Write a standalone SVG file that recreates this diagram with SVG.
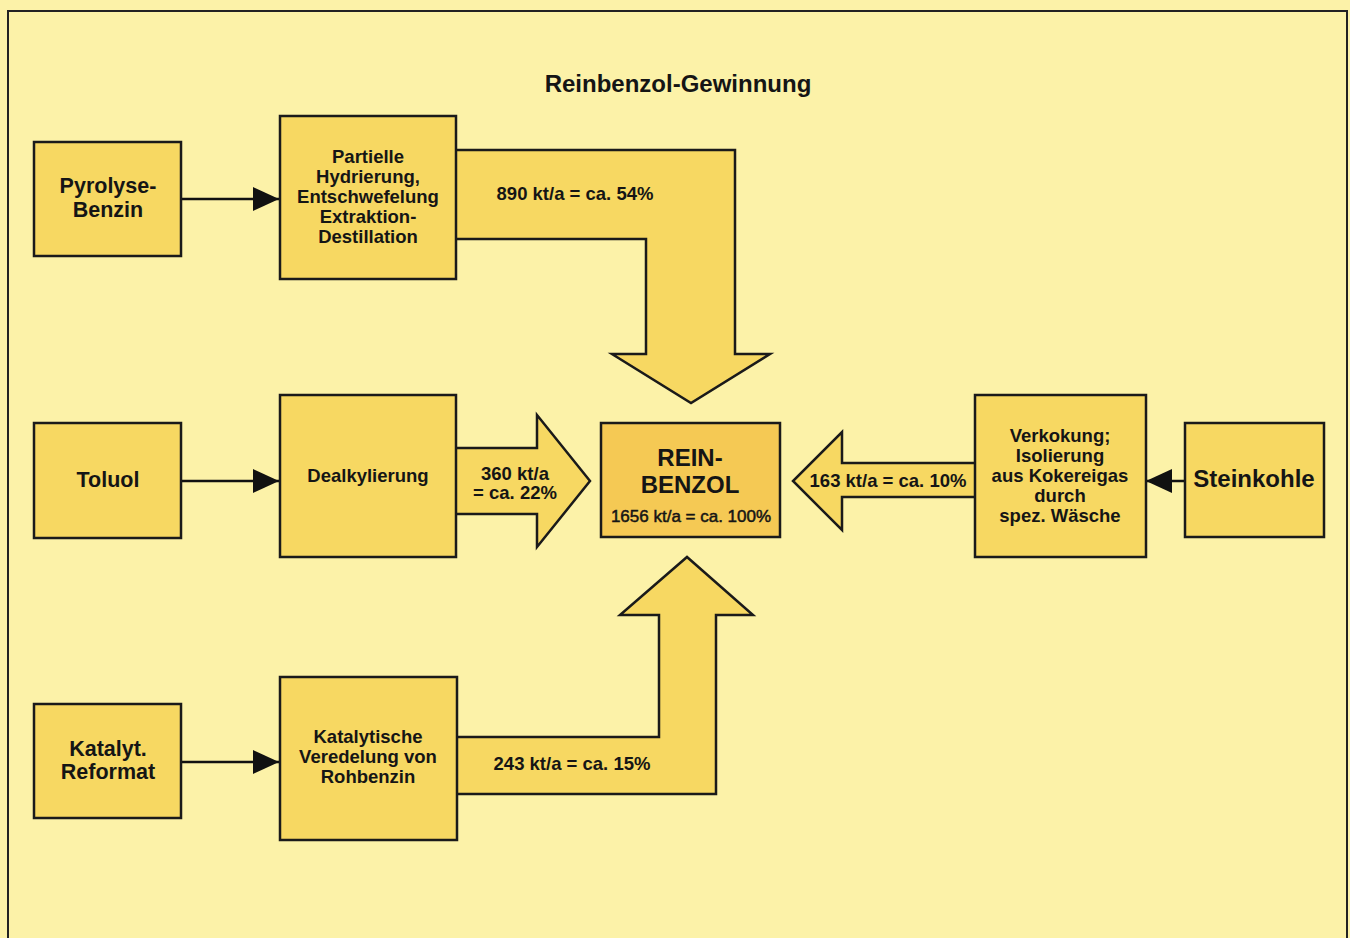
<svg xmlns="http://www.w3.org/2000/svg" width="1350" height="938" viewBox="0 0 1350 938">
  <defs>
    <style>
      .bg { fill: #FCF2A8; }
      .frame { fill: none; stroke: #222; stroke-width: 2; }
      .box { fill: #F7D862; stroke: #1a1a1a; stroke-width: 2.5; }
      .main { fill: #F5C954; stroke: #1a1a1a; stroke-width: 2.5; }
      .flow { fill: #F7D862; stroke: #1a1a1a; stroke-width: 2.5; stroke-linejoin: miter; }
      .link { stroke: #111; stroke-width: 2.5; fill: none; }
      text { font-family: "Liberation Sans", Arial, sans-serif; font-weight: bold; fill: #151515; text-anchor: middle; }
      .t18 { font-size: 18.5px; }
      .t21 { font-size: 21.5px; }
      .big { font-size: 24px; }
      .title { font-size: 24px; }
      .sub { font-size: 17px; font-weight: normal; stroke: #151515; stroke-width: 0.5; }
    </style>
    <marker id="head" viewBox="0 0 26 24" refX="26" refY="12" markerWidth="26" markerHeight="24" markerUnits="userSpaceOnUse" orient="auto">
      <path d="M0,0 L26,12 L0,24 Z" fill="#111"/>
    </marker>
  </defs>

  <rect class="bg" x="0" y="0" width="1350" height="938"/>
  <rect class="frame" x="8" y="11" width="1339" height="940"/>

  <text class="title" x="678" y="92">Reinbenzol-Gewinnung</text>

  <!-- connectors: thin feed lines and broad product flows -->
  <g id="connectors">
    <line class="link" x1="181" y1="199" x2="279" y2="199" marker-end="url(#head)"/>
    <line class="link" x1="181" y1="481" x2="279" y2="481" marker-end="url(#head)"/>
    <line class="link" x1="181" y1="762" x2="279" y2="762" marker-end="url(#head)"/>
    <line class="link" x1="1185" y1="481" x2="1146" y2="481" marker-end="url(#head)"/>

    <!-- 890 kt/a, bent arrow down into the product box -->
    <path class="flow" d="M456,150 L735,150 L735,354 L770,354 L691,403 L612,354 L646,354 L646,239 L456,239"/>
    <text class="t18" x="575" y="200">890 kt/a = ca. 54%</text>

    <!-- 360 kt/a, straight arrow -->
    <path class="flow" d="M456,448 L537,448 L537,415 L590,481 L537,547 L537,514 L456,514"/>
    <text class="t18" x="515" y="480">360 kt/a</text>
    <text class="t18" x="515" y="499">= ca. 22%</text>

    <!-- 243 kt/a, bent arrow up into the product box -->
    <path class="flow" d="M457,794 L716,794 L716,615 L753,615 L687,557 L620,615 L659,615 L659,737 L457,737"/>
    <text class="t18" x="572" y="770">243 kt/a = ca. 15%</text>

    <!-- 163 kt/a, arrow pointing left -->
    <path class="flow" d="M975,463 L842,463 L842,432 L793,481 L842,530 L842,497 L975,497"/>
    <text class="t18" x="888" y="487">163 kt/a = ca. 10%</text>
  </g>

  <g id="pyrolyse">
    <rect class="box" x="34" y="142" width="147" height="114"/>
    <text class="t21" x="108" y="193">Pyrolyse-</text>
    <text class="t21" x="108" y="217">Benzin</text>
  </g>

  <g id="hydrierung">
    <rect class="box" x="280" y="116" width="176" height="163"/>
    <text class="t18" x="368" y="163">Partielle</text>
    <text class="t18" x="368" y="183">Hydrierung,</text>
    <text class="t18" x="368" y="203">Entschwefelung</text>
    <text class="t18" x="368" y="223">Extraktion-</text>
    <text class="t18" x="368" y="243">Destillation</text>
  </g>

  <g id="toluol">
    <rect class="box" x="34" y="423" width="147" height="115"/>
    <text class="t21" x="108" y="487">Toluol</text>
  </g>

  <g id="dealkylierung">
    <rect class="box" x="280" y="395" width="176" height="162"/>
    <text class="t18" x="368" y="482">Dealkylierung</text>
  </g>

  <g id="reformat">
    <rect class="box" x="34" y="704" width="147" height="114"/>
    <text class="t21" x="108" y="756">Katalyt.</text>
    <text class="t21" x="108" y="779">Reformat</text>
  </g>

  <g id="veredelung">
    <rect class="box" x="280" y="677" width="177" height="163"/>
    <text class="t18" x="368" y="743">Katalytische</text>
    <text class="t18" x="368" y="763">Veredelung von</text>
    <text class="t18" x="368" y="783">Rohbenzin</text>
  </g>

  <g id="reinbenzol">
    <rect class="main" x="601" y="423" width="179" height="114"/>
    <text class="big" x="690" y="466">REIN-</text>
    <text class="big" x="690" y="493">BENZOL</text>
    <text class="sub" x="691" y="522">1656 kt/a = ca. 100%</text>
  </g>

  <g id="verkokung">
    <rect class="box" x="975" y="395" width="171" height="162"/>
    <text class="t18" x="1060" y="442">Verkokung;</text>
    <text class="t18" x="1060" y="462">Isolierung</text>
    <text class="t18" x="1060" y="482">aus Kokereigas</text>
    <text class="t18" x="1060" y="502">durch</text>
    <text class="t18" x="1060" y="522">spez. Wäsche</text>
  </g>

  <g id="steinkohle">
    <rect class="box" x="1185" y="423" width="139" height="114"/>
    <text x="1254" y="487" style="font-size:24px">Steinkohle</text>
  </g>
</svg>
